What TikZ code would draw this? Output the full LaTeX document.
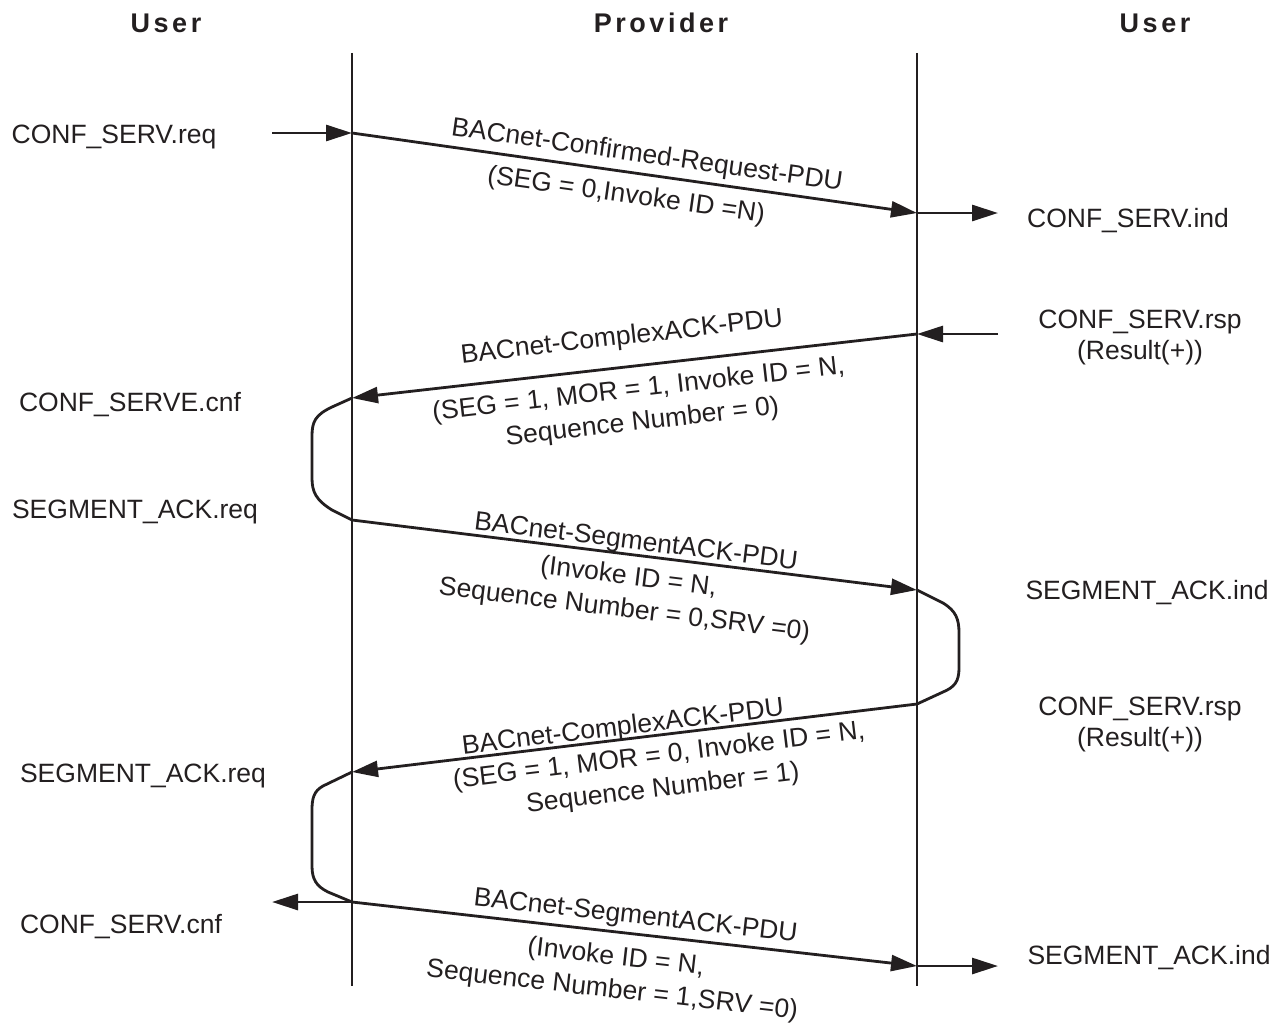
\documentclass[tikz,border=0pt]{standalone}
\usepackage{fontspec}
\setmainfont{Liberation Sans}
\newfontfamily\headfont[LetterSpace=13]{Liberation Sans Bold}
\usetikzlibrary{arrows.meta}
\definecolor{ink}{RGB}{35,31,32}

\begin{document}
\begin{tikzpicture}[x=1pt,y=-1pt,
  every node/.style={inner sep=0pt, outer sep=0pt, text=ink},
  lbl/.style={font=\fontsize{26.5}{33}\selectfont, align=center},
  side/.style={font=\fontsize{26.5}{31}\selectfont, align=center},
  head/.style={font=\headfont\fontsize{27}{30}\selectfont, anchor=base},
  lifeline/.style={draw=ink, line width=2.6pt},
  msg/.style={draw=ink, line width=2.8pt, -{Triangle[length=26pt,width=16pt]}},
  loop/.style={draw=ink, line width=2.8pt, line join=round}]

\useasboundingbox (0,0) rectangle (1281,1025);

% column headings
\node[head] (hUserL) at (166,33) {User};
\node[head] (hProv)  at (661,33) {Provider};
\node[head] (hUserR) at (1155,33) {User};

% lifelines of the two service access points
\coordinate (pTop) at (352,53);
\coordinate (pBot) at (352,986);
\coordinate (qTop) at (917,53);
\coordinate (qBot) at (917,986);
\draw[lifeline] (pTop) -- (pBot);
\draw[lifeline] (qTop) -- (qBot);

% events on the lifelines
\coordinate (a1) at (352,133);
\coordinate (b1) at (917,213);
\coordinate (b2) at (917,334);
\coordinate (a2) at (352,398);
\coordinate (a3) at (352,520);
\coordinate (b3) at (917,590);
\coordinate (b4) at (917,704);
\coordinate (a4) at (352,772);
\coordinate (a5) at (352,902);
\coordinate (b5) at (917,966);

% free ends of the primitive arrows
\coordinate (reqIn)  at (272,133);
\coordinate (indOut) at (998,213);
\coordinate (rspIn)  at (998,334);
\coordinate (cnfOut) at (272,902);
\coordinate (ackOut) at (998,966);

% service primitives
\node[side, anchor=base] (reqL)  at (114,143) {CONF\_SERV.req};
\node[side, anchor=base] (indR)  at (1128,227) {CONF\_SERV.ind};
\node[side] (rspR1) at (1140,337) {CONF\_SERV.rsp\\(Result(+))};
\node[side, anchor=base] (cnfL1) at (130,411) {CONF\_SERVE.cnf};
\node[side, anchor=base] (sarL1) at (135,518) {SEGMENT\_ACK.req};
\node[side, anchor=base] (saiR1) at (1147,599) {SEGMENT\_ACK.ind};
\node[side] (rspR2) at (1140,724) {CONF\_SERV.rsp\\(Result(+))};
\node[side, anchor=base] (sarL2) at (143,782) {SEGMENT\_ACK.req};
\node[side, anchor=base] (cnfL2) at (121,933) {CONF\_SERV.cnf};
\node[side, anchor=base] (saiR2) at (1149,964) {SEGMENT\_ACK.ind};

% horizontal primitive arrows
\draw[msg] (reqIn) -- (a1);
\draw[msg] (b1) -- (indOut);
\draw[msg] (rspIn) -- (b2);
\draw[msg] (a5) -- (cnfOut);
\draw[msg] (b5) -- (ackOut);

% PDUs crossing the network
\draw[msg] (a1) -- (b1);
\draw[msg] (b2) -- (a2);
\draw[msg] (a3) -- (b3);
\draw[msg] (b4) -- (a4);
\draw[msg] (a5) -- (b5);

% local turnarounds
\draw[loop] (a2) -- (332,407) .. controls (315,415) and (312,422) .. (312,436)
  -- (312,478) .. controls (312,492) and (316,500) .. (332,510) -- (a3);
\draw[loop] (b3) -- (943,603) .. controls (956,611) and (959,619) .. (959,633)
  -- (959,668) .. controls (959,681) and (955,687) .. (943,692) -- (b4);
\draw[loop] (a4) -- (323,786) .. controls (314,791) and (312,798) .. (312,810)
  -- (312,866) .. controls (312,879) and (316,886) .. (328,892) -- (a5);

% PDU labels
\node[lbl, rotate=-8.06] (m1a) at (647,156) {BACnet-Confirmed-Request-PDU};
\node[lbl, rotate=-8.06] (m1b) at (626,196) {(SEG = 0,Invoke ID =N)};
\node[lbl, rotate=6.46] (m2a) at (622,338) {BACnet-ComplexACK-PDU};
\node[lbl, rotate=6.46] (m2b) at (640.5,406.5) {(SEG = 1, MOR = 1, Invoke ID = N,\\Sequence Number = 0)};
\node[lbl, rotate=-7.06] (m3a) at (636,543) {BACnet-SegmentACK-PDU};
\node[lbl, rotate=-7.06] (m3b) at (626.5,594) {(Invoke ID = N,\\Sequence Number = 0,SRV =0)};
\node[lbl, rotate=6.87] (m4a) at (623,728) {BACnet-ComplexACK-PDU};
\node[lbl, rotate=6.87] (m4b) at (661,773) {(SEG = 1, MOR = 0, Invoke ID = N,\\Sequence Number = 1)};
\node[lbl, rotate=-6.46] (m5a) at (635.5,917) {BACnet-SegmentACK-PDU};
\node[lbl, rotate=-6.46] (m5b) at (614,974.5) {(Invoke ID = N,\\Sequence Number = 1,SRV =0)};

\end{tikzpicture}
\end{document}
